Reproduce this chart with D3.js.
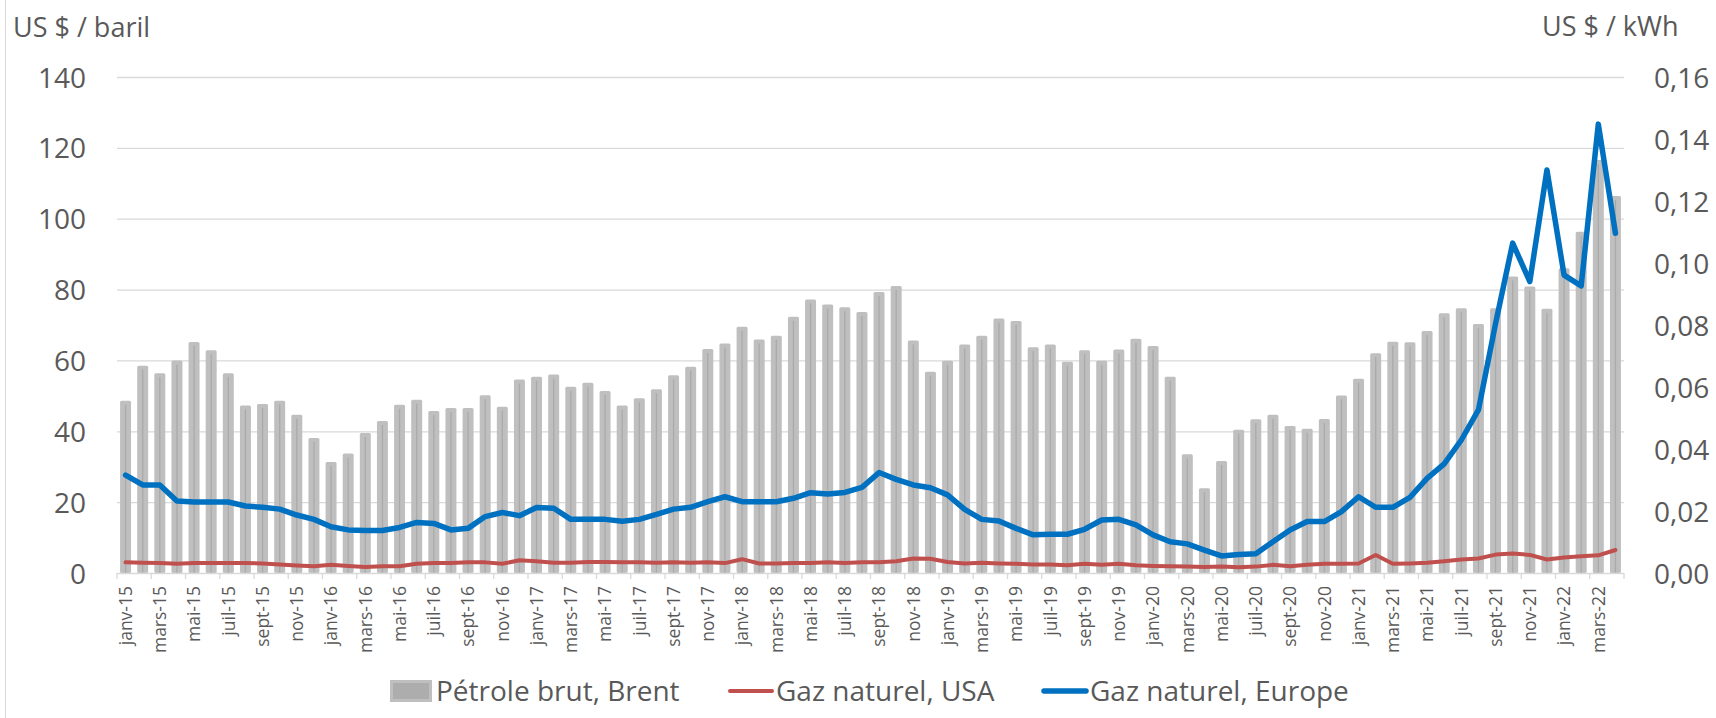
<!DOCTYPE html>
<html>
<head>
<meta charset="utf-8">
<script src="https://cdn.jsdelivr.net/npm/d3@7"></script>
<style>
  body { margin: 0; background: #fff; }
  svg { display: block; font-family: "Open Sans", "Noto Sans", sans-serif; }
  .lbl { fill: #595959; }
</style>
</head>
<body>
<svg width="1716" height="718"></svg>
<script>
const monthNames = ["janv", "févr", "mars", "avr", "mai", "juin", "juil", "août", "sept", "oct", "nov", "déc"];
const years = ["15", "16", "17", "18", "19", "20", "21", "22"];
const months = [];
years.forEach(y => monthNames.forEach((m, i) => {
  if (y !== "22" || i < 4) months.push(`${m}-${y}`);
}));

// Pétrole brut, Brent (US $ / baril)
const brent = [
  48.6, 58.5, 56.4, 60.0, 65.2, 62.9, 56.4, 47.3, 47.7, 48.6, 44.7, 38.1,
  31.3, 33.7, 39.5, 42.9, 47.5, 48.9, 45.7, 46.6, 46.6, 50.2, 46.9, 54.6,
  55.4, 56.0, 52.6, 53.7, 51.4, 47.3, 49.3, 51.9, 55.8, 58.2, 63.2, 64.8,
  69.5, 65.9, 67.0, 72.3, 77.2, 75.8, 75.0, 73.7, 79.3, 81.0, 65.6, 56.8,
  59.9, 64.5, 67.0, 71.8, 71.1, 63.7, 64.5, 59.6, 62.9, 59.9, 63.1, 66.1,
  64.1, 55.4, 33.5, 23.9, 31.6, 40.4, 43.4, 44.7, 41.5, 40.7, 43.5, 50.1,
  54.8, 62.0, 65.3, 65.1, 68.3, 73.3, 74.7, 70.3, 74.7, 83.7, 80.9, 74.6,
  86.0, 96.3, 116.6, 106.4
];

// Gaz naturel, USA (échelle de gauche)
const gazUSA = [
  3.0, 2.9, 2.8, 2.6, 2.8, 2.8, 2.8, 2.8, 2.7, 2.4, 2.1, 1.9,
  2.3, 2.0, 1.7, 1.9, 1.9, 2.6, 2.8, 2.8, 3.0, 3.0, 2.6, 3.6,
  3.3, 2.9, 2.9, 3.1, 3.1, 3.0, 3.0, 2.9, 3.0, 2.9, 3.0, 2.8,
  3.9, 2.7, 2.7, 2.8, 2.8, 3.0, 2.8, 3.0, 3.0, 3.3, 4.1, 4.0,
  3.1, 2.7, 2.9, 2.7, 2.6, 2.4, 2.4, 2.2, 2.6, 2.3, 2.6, 2.2,
  2.0, 1.9, 1.8, 1.7, 1.8, 1.6, 1.8, 2.3, 1.9, 2.3, 2.6, 2.6,
  2.7, 5.1, 2.6, 2.7, 2.9, 3.3, 3.8, 4.1, 5.2, 5.5, 5.1, 3.8,
  4.4, 4.7, 5.0, 6.5
];

// Gaz naturel, Europe (US $ / kWh)
const gazEurope = [
  0.0316, 0.0284, 0.0284, 0.0232, 0.0229, 0.0229, 0.0229, 0.0216, 0.0212, 0.0206, 0.0187, 0.0173,
  0.0149, 0.0139, 0.0137, 0.0137, 0.0147, 0.0163, 0.0160, 0.0139, 0.0144, 0.0182, 0.0195, 0.0185,
  0.0211, 0.0209, 0.0173, 0.0173, 0.0173, 0.0167, 0.0173, 0.0189, 0.0206, 0.0212, 0.0230, 0.0246,
  0.0230, 0.0230, 0.0230, 0.0241, 0.0259, 0.0255, 0.0260, 0.0276, 0.0324, 0.0302, 0.0284, 0.0275,
  0.0252, 0.0205, 0.0173, 0.0168, 0.0144, 0.0123, 0.0125, 0.0125, 0.0141, 0.0171, 0.0173, 0.0155,
  0.0123, 0.0101, 0.0094, 0.0074, 0.0055, 0.0060, 0.0062, 0.0101, 0.0139, 0.0166, 0.0166, 0.0198,
  0.0246, 0.0212, 0.0212, 0.0244, 0.0305, 0.0352, 0.0429, 0.0526, 0.0805, 0.1064, 0.0940, 0.1300,
  0.0961, 0.0926, 0.1448, 0.1096
];

const leftTicks = [0, 20, 40, 60, 80, 100, 120, 140];
const rightTicks = [0, 0.02, 0.04, 0.06, 0.08, 0.10, 0.12, 0.14, 0.16];
const legendItems = ["Pétrole brut, Brent", "Gaz naturel, USA", "Gaz naturel, Europe"];

const svg = d3.select("svg");
const plotLeft = 117, plotRight = 1624, plotTop = 77, plotBottom = 573;

const x = d3.scaleBand().domain(months).range([plotLeft, plotRight]).paddingInner(0.36).paddingOuter(0.18);
const yL = d3.scaleLinear().domain([0, 140]).range([plotBottom, plotTop]);
const yR = d3.scaleLinear().domain([0, 0.16]).range([plotBottom, plotTop]);
const step = x.step(), bw = x.bandwidth();
const cx = d => x(d) + bw / 2;

// outer frame (left edge)
svg.append("line").attr("x1", 5.5).attr("x2", 5.5).attr("y1", 0).attr("y2", 718)
  .attr("stroke", "#d9d9d9").attr("stroke-width", 1);

// gridlines
svg.append("g").selectAll("line").data(leftTicks.slice(1)).join("line")
  .attr("x1", plotLeft).attr("x2", plotRight)
  .attr("y1", d => yL(d) + 0.5).attr("y2", d => yL(d) + 0.5)
  .attr("stroke", "#d9d9d9").attr("stroke-width", 1.3);

// left axis
const gL = svg.append("g").attr("transform", "translate(86,0)")
  .call(d3.axisLeft(yL).tickValues(leftTicks).tickSize(0).tickPadding(0).tickFormat(d3.format("d")));
gL.select(".domain").remove();
gL.selectAll("text").attr("class", "lbl").style("font-size", "28px").attr("dy", "0.36em");

// right axis
const fmtR = v => v.toFixed(2).replace(".", ",");
const gR = svg.append("g").attr("transform", "translate(1654,0)")
  .call(d3.axisRight(yR).tickValues(rightTicks).tickSize(0).tickPadding(0).tickFormat(fmtR));
gR.select(".domain").remove();
gR.selectAll("text").attr("class", "lbl").style("font-size", "28px").attr("dy", "0.36em");
gL.attr("font-family", null).attr("font-size", null);
gR.attr("font-family", null).attr("font-size", null);

// axis titles
svg.append("text").attr("class", "lbl").attr("x", 13).attr("y", 37).style("font-size", "27px").text("US $ / baril");
svg.append("text").attr("class", "lbl").attr("x", 1542).attr("y", 36).style("font-size", "27px").text("US $ / kWh");

// bars
const bars = svg.append("g");
bars.selectAll("rect").data(months).join("rect")
  .attr("x", d => x(d)).attr("width", bw)
  .attr("y", (d, i) => yL(brent[i])).attr("height", (d, i) => plotBottom - yL(brent[i]))
  .attr("rx", 1.5).attr("fill", "#bfbfbf");
bars.selectAll("line").data(months).join("line")
  .attr("x1", cx).attr("x2", cx)
  .attr("y1", (d, i) => yL(brent[i]) + 4).attr("y2", plotBottom)
  .attr("stroke", "#aaaaaa").attr("stroke-width", 1.3);

// x axis baseline and ticks
svg.append("line").attr("x1", plotLeft).attr("x2", plotRight).attr("y1", plotBottom + 0.5).attr("y2", plotBottom + 0.5)
  .attr("stroke", "#d9d9d9").attr("stroke-width", 1.3);
const tickCats = months.filter((d, i) => i % 2 === 0);
svg.append("g").selectAll("line").data(tickCats.concat(["end"])).join("line")
  .attr("x1", d => d === "end" ? plotRight : x(d) - (step - bw) / 2)
  .attr("x2", d => d === "end" ? plotRight : x(d) - (step - bw) / 2)
  .attr("y1", plotBottom).attr("y2", plotBottom + 6)
  .attr("stroke", "#d9d9d9").attr("stroke-width", 1.3);
svg.append("g").selectAll("text").data(tickCats).join("text")
  .attr("class", "lbl")
  .attr("transform", d => `translate(${cx(d)},586) rotate(-90)`)
  .attr("text-anchor", "end").attr("dy", "0.36em")
  .style("font-size", "17.5px")
  .text(d => d);

// lines
svg.append("path").datum(gazUSA)
  .attr("fill", "none").attr("stroke", "#c0504d").attr("stroke-width", 4)
  .attr("stroke-linejoin", "round").attr("stroke-linecap", "round")
  .attr("d", d3.line().x((d, i) => cx(months[i])).y(d => yL(d)));
svg.append("path").datum(gazEurope)
  .attr("fill", "none").attr("stroke", "#0070c0").attr("stroke-width", 5.5)
  .attr("stroke-linejoin", "round").attr("stroke-linecap", "round")
  .attr("d", d3.line().x((d, i) => cx(months[i])).y(d => yR(d)));

// legend
const lg = svg.append("g");
lg.append("rect").attr("x", 390).attr("y", 680).attr("width", 42).attr("height", 22).attr("fill", "#bfbfbf");
lg.append("rect").attr("x", 393).attr("y", 683).attr("width", 36).attr("height", 16).attr("fill", "#adadad");
lg.append("line").attr("x1", 730).attr("x2", 772).attr("y1", 691).attr("y2", 691)
  .attr("stroke", "#c0504d").attr("stroke-width", 4).attr("stroke-linecap", "round");
lg.append("line").attr("x1", 1044).attr("x2", 1086).attr("y1", 691).attr("y2", 691)
  .attr("stroke", "#0070c0").attr("stroke-width", 5.5).attr("stroke-linecap", "round");
lg.selectAll("text").data(legendItems).join("text")
  .attr("class", "lbl")
  .attr("x", (d, i) => [436, 776, 1090][i]).attr("y", 701)
  .style("font-size", "28px")
  .text(d => d);
</script>
</body>
</html>
